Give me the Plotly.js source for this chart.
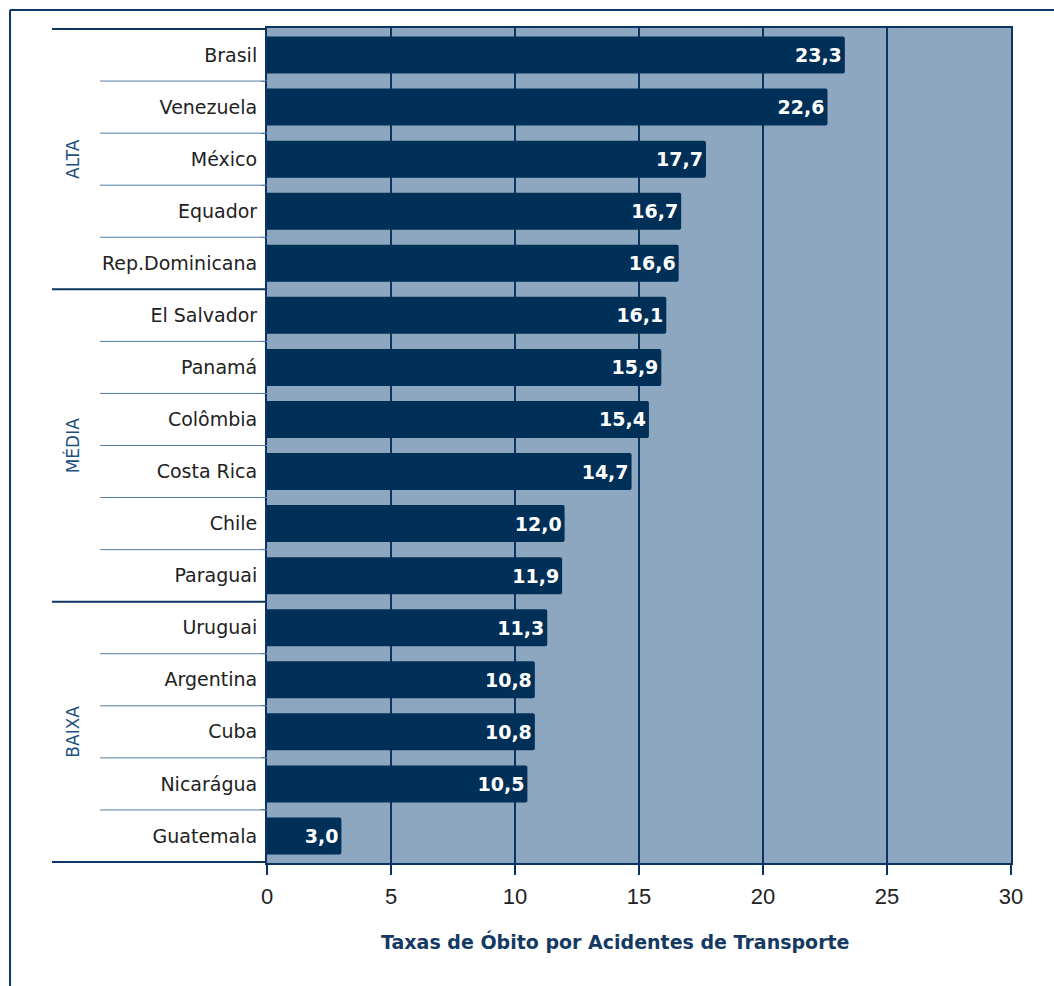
<!DOCTYPE html>
<html>
<head>
<meta charset="utf-8">
<script src="https://cdn.plot.ly/plotly-3.0.1.min.js"></script>
<style>html,body{margin:0;padding:0;background:#fff;}#chart{width:1054px;height:986px;}</style>
</head>
<body>
<div id="chart"></div>
<script>
const countries = ["Brasil","Venezuela","México","Equador","Rep.Dominicana","El Salvador","Panamá","Colômbia","Costa Rica","Chile","Paraguai","Uruguai","Argentina","Cuba","Nicarágua","Guatemala"];
const rates = [23.3,22.6,17.7,16.7,16.6,16.1,15.9,15.4,14.7,12.0,11.9,11.3,10.8,10.8,10.5,3.0];
const groupNames = ["ALTA","MÉDIA","BAIXA"];
const groupStart = [0,5,11];
const groupEnd = [4,10,15];
const xTicks = [0,5,10,15,20,25,30];
const axisTitle = "Taxas de Óbito por Acidentes de Transporte";

const dark = "#0b3560";
const shapes = [];
// thin lines between categories in label column
for (let i = 0; i < countries.length - 1; i++) {
  if (groupStart.indexOf(i + 1) >= 0) continue;
  shapes.push({type:"line", xref:"paper", yref:"y", x0:-0.2245, x1:0, y0:i+0.5, y1:i+0.5,
    line:{color:"#4f7ba3", width:1}});
}
// group boundary lines
const bounds = [-0.5].concat(groupEnd.map(e => e + 0.5));
bounds.forEach(b => shapes.push({type:"line", xref:"paper", yref:"y", x0:-0.289, x1:0, y0:b, y1:b,
  line:{color:dark, width:2}}));
// outer frame
shapes.push({type:"line", xref:"paper", yref:"paper", x0:-0.3454, x1:1.06, y0:1.0216, y1:1.0216, line:{color:"#0d3a64", width:2}});
shapes.push({type:"line", xref:"paper", yref:"paper", x0:-0.3454, x1:-0.3454, y0:1.0216, y1:-0.2, line:{color:"#0d3a64", width:2}});

const annotations = groupNames.map((g, k) => ({
  text: g, xref:"paper", yref:"y", x:-0.261, xanchor:"center", yanchor:"middle",
  y:(groupStart[k] + groupEnd[k]) / 2,
  showarrow:false, textangle:-90, font:{family:"DejaVu Sans, Liberation Sans, sans-serif", size:17, color:"#1d4f80"}
}));
annotations.push({
  text: axisTitle, xref:"paper", yref:"paper", x:0.4677, y:-0.0946, xanchor:"center", yanchor:"middle",
  showarrow:false, font:{family:"DejaVu Sans, Liberation Sans, sans-serif", size:19, color:"#143a63", weight:"bold"}
});

const trace = {
  type:"bar", orientation:"h", x:rates, y:countries,
  marker:{color:"#003057", line:{width:0}, cornerradius:2},
  texttemplate:"%{x:.1f}", textposition:"inside", insidetextanchor:"end",
  textfont:{family:"DejaVu Sans, Liberation Sans, sans-serif", size:19, color:"#ffffff", weight:"bold"},
  hoverinfo:"none", cliponaxis:false
};

const layout = {
  width:1054, height:986,
  margin:{l:267, r:43, t:28, b:123},
  paper_bgcolor:"#ffffff", plot_bgcolor:"#8da7c0",
  separators:",.",
  bargap:0.29,
  showlegend:false,
  xaxis:{range:[0,30], tickvals:xTicks, ticktext:xTicks.map(String),
    showgrid:true, gridcolor:dark, gridwidth:2, zeroline:false,
    showline:true, linecolor:dark, linewidth:2, mirror:true,
    ticks:"outside", ticklen:10, tickwidth:2, tickcolor:dark,
    tickfont:{family:"Liberation Sans, Arial, sans-serif", size:22, color:"#222222"},
    ticklabelstandoff:3
  },
  yaxis:{type:"category", autorange:"reversed", showgrid:false, zeroline:false,
    showline:true, linecolor:dark, linewidth:2, mirror:true,
    ticks:"outside", tickson:"boundaries", ticklen:4, tickwidth:1, tickcolor:"#4f7ba3",
    tickfont:{family:"DejaVu Sans, Liberation Sans, sans-serif", size:19, color:"#222222"},
    ticklabelstandoff:4
  },
  shapes:shapes, annotations:annotations
};

Plotly.newPlot("chart", [trace], layout, {displayModeBar:false, staticPlot:true});
</script>
</body>
</html>
